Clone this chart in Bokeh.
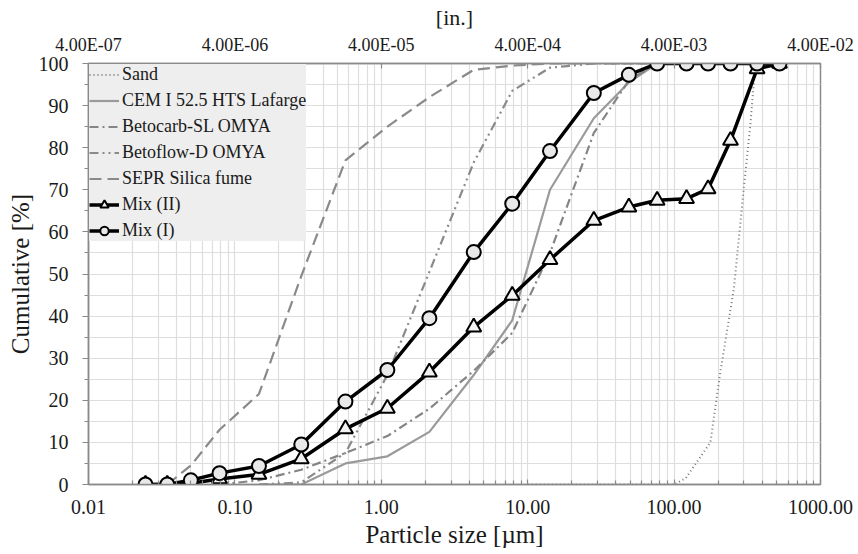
from bokeh.plotting import figure
from bokeh.models import (LogAxis, FixedTicker, CustomJSTickFormatter, Legend, LegendItem,
                          SingleIntervalTicker, Range1d, Title)
from bokeh.embed import file_html
from bokeh.resources import INLINE

# ---------------- data ----------------
bottom_tick_values = [0.01, 0.1, 1, 10, 100, 1000]
bottom_tick_labels = ["0.01", "0.10", "1.00", "10.00", "100.00", "1000.00"]
top_tick_labels = ["4.00E-07", "4.00E-06", "4.00E-05", "4.00E-04", "4.00E-03", "4.00E-02"]

mix_sizes = [0.0245, 0.0345, 0.05, 0.0785, 0.146, 0.284, 0.569, 1.10, 2.13, 4.28,
             7.84, 14.2, 28.3, 49.1, 76.6, 121.6, 170.6, 242.8, 369, 524.8]
mix1 = [0, 0, 1.0, 2.7, 4.4, 9.5, 19.7, 27.2, 39.5, 55.2,
        66.7, 79.2, 93.0, 97.3, 100, 100, 100, 100, 100, 100]
mix2 = [0, 0, 0.3, 1.3, 2.4, 6.1, 13.2, 18.1, 26.7, 37.4,
        44.9, 53.4, 62.7, 65.9, 67.5, 67.9, 70.2, 81.7, 98.7, 100]

sand_sizes = [10.0, 28.3, 49.1, 100.0, 120.0, 177.0, 207.0, 256.0, 299.0, 333.0, 355.0, 380.0, 524.8]
sand = [0, 0, 0, 0, 1.5, 10, 26.7, 46.5, 70.2, 86, 98, 100, 100]

cem_sizes = [0.146, 0.284, 0.569, 1.10, 2.13, 4.28, 7.84, 14.2, 28.3, 49.1, 76.6, 524.8]
cem = [0, 0, 5, 6.7, 12.5, 26, 39, 70, 87, 95.5, 100, 100]

betocarb_sizes = [0.0785, 0.146, 0.284, 0.569, 1.10, 2.13, 4.28, 7.84, 14.2, 28.3, 49.1, 76.6, 524.8]
betocarb = [0, 1, 3.5, 7.5, 11.5, 18, 27, 36, 55, 83.5, 96, 100, 100]

betoflow_sizes = [0.146, 0.284, 0.569, 1.10, 2.13, 4.28, 7.84, 14.2, 28.3, 524.8]
betoflow = [0, 0.5, 7.5, 26, 50.5, 76.5, 93.5, 99, 100, 100]

silica_sizes = [0.0345, 0.05, 0.0785, 0.146, 0.284, 0.569, 1.10, 2.13, 4.28, 7.84, 14.2, 524.8]
silica = [0, 4.5, 13, 21.5, 49.5, 77, 85, 92, 98.5, 99.5, 100, 100]

x_title = "Particle size [µm]"
y_title = "Cumulative [%]"
top_title = "[in.]"

# ---------------- figure ----------------
FONT = "Liberation Serif"
TXT = "#1a1a1a"
AXC = "#8a8a8a"

p = figure(frame_width=732, frame_height=421, x_axis_type="log",
           x_range=Range1d(0.01, 1000), y_range=Range1d(0, 100),
           output_backend="svg", toolbar_location=None,
           min_border_left=88, min_border_right=38, min_border_top=63, min_border_bottom=70)
p.outline_line_color = AXC
p.outline_line_width = 1.5
p.background_fill_color = "white"
p.border_fill_color = "white"

minor_x = [k * d for d in [0.01, 0.1, 1, 10, 100] for k in range(2, 10)]
fmt_js = """
let best = -1;
for (let i = 0; i < vals.length; i++) {
  if (Math.abs(Math.log10(vals[i]) - Math.log10(tick)) < 1e-6) { best = i; }
}
return best >= 0 ? labels[best] : "";
"""

xa = p.xaxis[0]
xa.ticker = FixedTicker(ticks=bottom_tick_values, minor_ticks=minor_x)
xa.formatter = CustomJSTickFormatter(args=dict(vals=bottom_tick_values, labels=bottom_tick_labels), code=fmt_js)
xa.major_tick_in = 5
xa.major_tick_out = 0
xa.minor_tick_in = 4
xa.minor_tick_out = 0
xa.major_label_standoff = 15

ya = p.yaxis[0]
ya.ticker = SingleIntervalTicker(interval=10, num_minor_ticks=2)
ya.major_tick_in = 0
ya.major_tick_out = 6
ya.minor_tick_in = 0
ya.minor_tick_out = 4
ya.major_label_standoff = 14

top = LogAxis(ticker=FixedTicker(ticks=bottom_tick_values, minor_ticks=[]),
              formatter=CustomJSTickFormatter(args=dict(vals=bottom_tick_values, labels=top_tick_labels), code=fmt_js))
top.major_tick_in = 5
top.major_tick_out = 0
top.minor_tick_in = 0
top.minor_tick_out = 0
top.major_label_standoff = 9
p.add_layout(top, "above")

for ax in [xa, ya, top]:
    ax.axis_line_color = AXC
    ax.axis_line_width = 1.5
    ax.major_tick_line_color = AXC
    ax.minor_tick_line_color = AXC
    ax.major_tick_line_width = 1.2
    ax.minor_tick_line_width = 1.2
    ax.major_label_text_font = FONT
    ax.major_label_text_color = TXT
    ax.major_label_text_font_size = "20px"
top.major_label_text_font_size = "18px"

# axis titles as Title models in the side panels
p.add_layout(Title(text=x_title, align="center", text_font=FONT, text_font_size="25px",
                   text_font_style="normal", text_color=TXT, standoff=4), "below")
p.add_layout(Title(text=y_title, align="center", text_font=FONT, text_font_size="25px",
                   text_font_style="normal", text_color=TXT, standoff=3), "left")
p.add_layout(Title(text=top_title, align="center", text_font=FONT, text_font_size="22px",
                   text_font_style="normal", text_color=TXT, standoff=3), "above")

GRID = "#dedede"
p.xgrid.grid_line_color = GRID
p.xgrid.minor_grid_line_color = GRID
p.xgrid.grid_line_width = 1.2
p.xgrid.minor_grid_line_width = 1.2
p.ygrid.grid_line_color = GRID
p.ygrid.minor_grid_line_color = GRID
p.ygrid.grid_line_width = 1.2
p.ygrid.minor_grid_line_width = 1.2

# ---------------- series ----------------
r_sand = p.line(sand_sizes, sand, line_color="#7a7a7a", line_width=2, line_dash="1 3")
r_cem = p.line(cem_sizes, cem, line_color="#9a9a9a", line_width=2.2)
r_carb = p.line(betocarb_sizes, betocarb, line_color="#858585", line_width=2.2, line_dash="9 4 2 4")
r_flow = p.line(betoflow_sizes, betoflow, line_color="#8a8a8a", line_width=2.2, line_dash="9 4 2 4 2 4")
r_sil = p.line(silica_sizes, silica, line_color="#8a8a8a", line_width=2.2, line_dash="12 6")

r_m2l = p.line(mix_sizes, mix2, line_color="black", line_width=3.5)
r_m2s = p.scatter(mix_sizes, mix2, marker="triangle", size=15, fill_color="#f2f2f2",
                  line_color="black", line_width=2)
r_m1l = p.line(mix_sizes, mix1, line_color="black", line_width=3.5)
r_m1s = p.scatter(mix_sizes, mix1, marker="circle", size=14, fill_color="#e8e8e8",
                  line_color="black", line_width=2)

legend = Legend(items=[
    LegendItem(label="Sand", renderers=[r_sand]),
    LegendItem(label="CEM I 52.5 HTS Lafarge", renderers=[r_cem]),
    LegendItem(label="Betocarb-SL OMYA", renderers=[r_carb]),
    LegendItem(label="Betoflow-D OMYA", renderers=[r_flow]),
    LegendItem(label="SEPR Silica fume", renderers=[r_sil]),
    LegendItem(label="Mix (II)", renderers=[r_m2l, r_m2s]),
    LegendItem(label="Mix (I)", renderers=[r_m1l, r_m1s]),
], location="top_left")
legend.margin = 1
legend.padding = 3
legend.spacing = 5
legend.label_height = 21
legend.glyph_height = 21
legend.glyph_width = 30
legend.label_standoff = 3
legend.label_text_font = FONT
legend.label_text_font_size = "18px"
legend.label_text_color = TXT
legend.background_fill_color = "#eeeeee"
legend.background_fill_alpha = 1.0
legend.border_line_color = None
p.add_layout(legend, "center")

open("out.html", "w").write(file_html(p, INLINE))
